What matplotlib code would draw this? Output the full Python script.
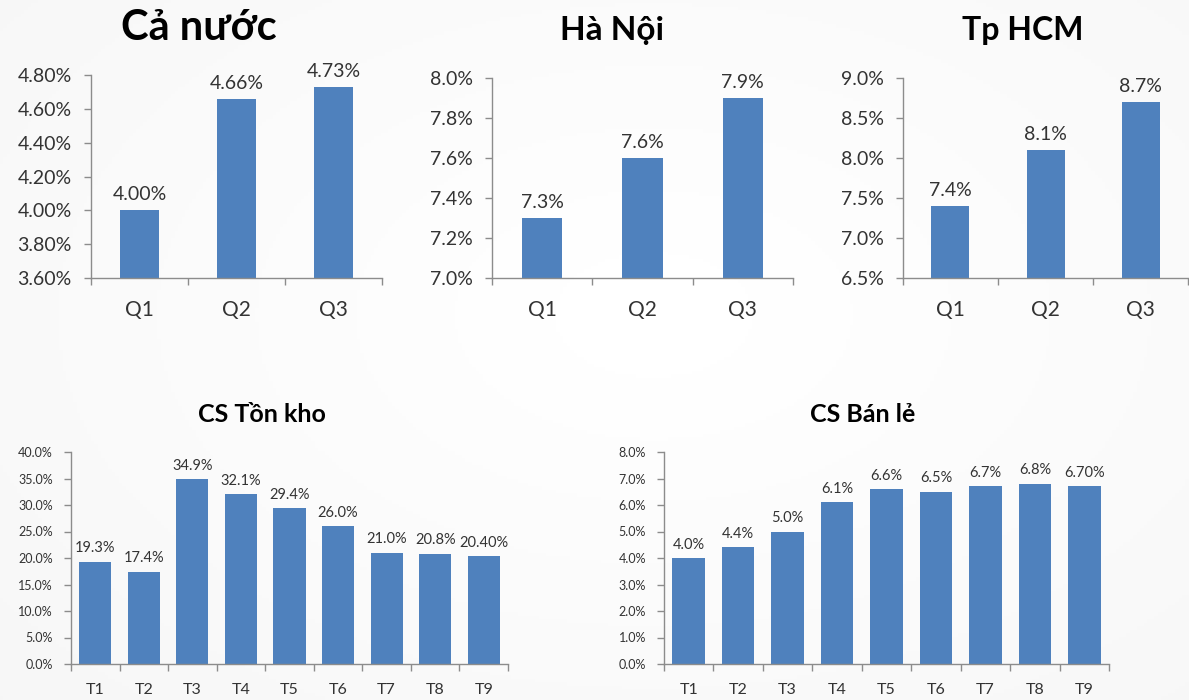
import numpy as np
import matplotlib
matplotlib.use("Agg")
import matplotlib.pyplot as plt
from matplotlib.ticker import FixedLocator

# =========================================================
# 数据
# =========================================================
quarters = ["Q1", "Q2", "Q3"]
months = ["T1", "T2", "T3", "T4", "T5", "T6", "T7", "T8", "T9"]

ca_nuoc = [4.00, 4.66, 4.73]
ha_noi = [7.3, 7.6, 7.9]
tp_hcm = [7.4, 8.1, 8.7]
ton_kho = [19.3, 17.4, 34.9, 32.1, 29.4, 26.0, 21.0, 20.8, 20.40]
ban_le = [4.0, 4.4, 5.0, 6.1, 6.6, 6.5, 6.7, 6.8, 6.70]

# nhãn giá trị (cột cuối được ghi 2 chữ số thập phân)
ton_kho_labels = ["19.3%", "17.4%", "34.9%", "32.1%", "29.4%", "26.0%", "21.0%", "20.8%", "20.40%"]
ban_le_labels = ["4.0%", "4.4%", "5.0%", "6.1%", "6.6%", "6.5%", "6.7%", "6.8%", "6.70%"]

# =========================================================
# Kiểu chung
# =========================================================
plt.rcParams["font.family"] = ["Lato", "Open Sans", "DejaVu Sans"]
BAR = "#4F81BD"
AXIS = "#8c8c8c"
TXT = "#333333"

W, H = 1189, 700
fig = plt.figure(figsize=(W / 100, H / 100), dpi=100)
fig.patch.set_facecolor("#f6f6f6")

# nền slide: vùng sáng ở giữa, tối nhẹ ra rìa
bg = fig.add_axes([0, 0, 1, 1], zorder=-10)
yy, xx = np.mgrid[0:1:200j, 0:1:340j]
r = np.sqrt(((xx - 0.55) / 0.75) ** 2 + ((yy - 0.45) / 0.8) ** 2)
shade = 1.0 - 0.035 * np.clip(r, 0, 1.2)
bg.imshow(shade, cmap="gray", vmin=0, vmax=1, aspect="auto", extent=[0, 1, 0, 1])
bg.axis("off")


def px_axes(x0, x1, y0, y1):
    return fig.add_axes([x0 / W, 1 - y1 / H, (x1 - x0) / W, (y1 - y0) / H])


def bar_panel(ax, cats, vals, labels, ylim, step, fmt, width,
              tick_fs, val_fs, xfs, xpad, ypad, lab_gap):
    x = np.arange(len(cats))
    ax.bar(x, vals, width=width, color=BAR, zorder=2)
    ax.set_xlim(-0.5, len(cats) - 0.5)
    ax.set_ylim(*ylim)
    ax.set_facecolor("none")
    for s in ("top", "right"):
        ax.spines[s].set_visible(False)
    for s in ("left", "bottom"):
        ax.spines[s].set_color(AXIS)
        ax.spines[s].set_linewidth(1.0)

    yt = np.arange(ylim[0], ylim[1] + step / 2, step)
    ax.set_yticks(yt)
    ax.set_yticklabels([fmt.format(v) for v in yt], fontsize=tick_fs, color=TXT)
    ax.tick_params(axis="y", length=5, width=1, color=AXIS, pad=ypad)

    ax.set_xticks(x)
    ax.set_xticklabels(cats, fontsize=xfs, color=TXT)
    ax.tick_params(axis="x", which="major", length=0, pad=xpad)
    ax.xaxis.set_minor_locator(FixedLocator(np.arange(-0.5, len(cats), 1.0)))
    ax.tick_params(axis="x", which="minor", length=5, width=1, color=AXIS)

    span = ylim[1] - ylim[0]
    for xi, v, lab in zip(x, vals, labels):
        ax.text(xi, v + span * lab_gap, lab, ha="center", va="bottom",
                fontsize=val_fs, color=TXT, clip_on=False)


# ---- Cả nước ----
ax1 = px_axes(91, 382, 75, 278)
bar_panel(ax1, quarters, ca_nuoc, [f"{v:.2f}%" for v in ca_nuoc],
          (3.6, 4.8), 0.2, "{:.2f}%", 0.4, 14, 14, 15, 16, 9, 0.035)

# ---- Hà Nội ----
ax2 = px_axes(492, 793, 78, 278)
bar_panel(ax2, quarters, ha_noi, [f"{v:.1f}%" for v in ha_noi],
          (7.0, 8.0), 0.2, "{:.1f}%", 0.4, 14, 14, 15, 16, 9, 0.035)

# ---- Tp HCM ----
ax3 = px_axes(903, 1188, 78, 278)
bar_panel(ax3, quarters, tp_hcm, [f"{v:.1f}%" for v in tp_hcm],
          (6.5, 9.0), 0.5, "{:.1f}%", 0.4, 14, 14, 15, 16, 9, 0.035)

# ---- CS Tồn kho ----
ax4 = px_axes(71, 508, 452, 664)
bar_panel(ax4, months, ton_kho, ton_kho_labels,
          (0, 40), 5, "{:.1f}%", 0.66, 9, 10.5, 11.5, 14, 8, 0.03)

# ---- CS Bán lẻ ----
ax5 = px_axes(664, 1109, 452, 664)
bar_panel(ax5, months, ban_le, ban_le_labels,
          (0, 8), 1, "{:.1f}%", 0.66, 9, 10.5, 11.5, 14, 8, 0.03)

# tiêu đề
titles = [
    ("Cả nước", 199, 40, 30),
    ("Hà Nội", 612, 40, 24),
    ("Tp HCM", 1023, 40, 23),
    ("CS Tồn kho", 262, 422, 18),
    ("CS Bán lẻ", 863, 422, 18),
]
for t, cx, by, fs in titles:
    fig.text(cx / W, 1 - by / H, t, ha="center", va="baseline",
             fontsize=fs, fontweight="bold", color="black")

fig.savefig("out.png", dpi=100, facecolor=fig.get_facecolor())
